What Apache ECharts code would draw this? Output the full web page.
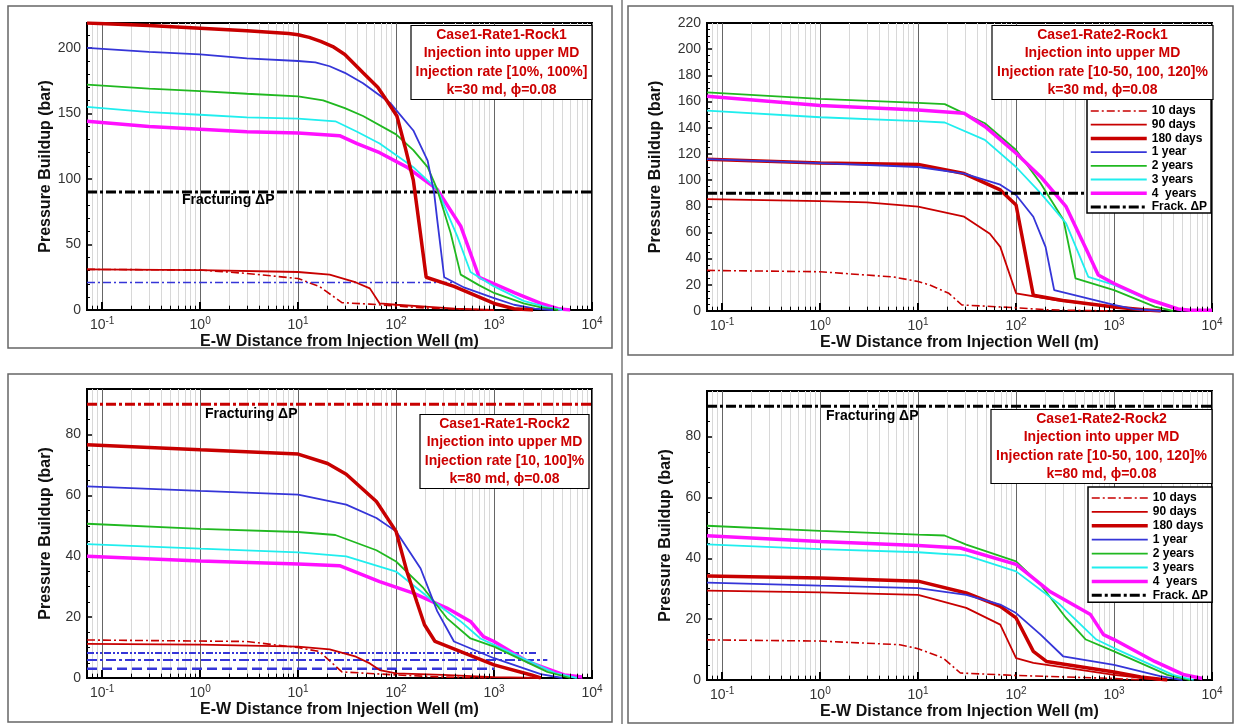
<!DOCTYPE html>
<html><head><meta charset="utf-8">
<script src="https://cdn.jsdelivr.net/npm/echarts@6/dist/echarts.min.js"></script>
<style>html,body{margin:0;padding:0;background:#fff}#c{width:1241px;height:724px}</style>
</head><body><div id="c"></div>
<script>
// ---------- tick labels / categories ----------
const xDecades = [-1, 0, 1, 2, 3, 4];
const legendNames = ['10 days', '90 days', '180 days', '1 year', '2 years', '3 years', '4  years', 'Frack. \u0394P'];
const titles = [
  'Case1-Rate1-Rock1\nInjection into upper MD\nInjection rate [10%, 100%]\nk=30 md, \u03d5=0.08',
  'Case1-Rate2-Rock1\nInjection into upper MD\nInjection rate [10-50, 100, 120]%\nk=30 md, \u03d5=0.08',
  'Case1-Rate1-Rock2\nInjection into upper MD\nInjection rate [10, 100]%\nk=80 md, \u03d5=0.08',
  'Case1-Rate2-Rock2\nInjection into upper MD\nInjection rate [10-50, 100, 120]%\nk=80 md, \u03d5=0.08'
];
const fracLevel = 90;

// ---------- Panel 1: Case1-Rate1-Rock1 ----------
const p1Thick = [[0.07,219],[0.3,217],[1,215],[3,213],[8,211],[10,210],[13,208],[17,205],[22.6,201],[30,195],[46,181],[65,170],[80,160],[102,148],[123,125],[150,99],[163,79],[203,25],[390,18],[1000,5],[1600,1],[2500,0]];
const p1Blue = [[0.07,200],[0.3,197],[1,195],[3,192],[10,190],[15,189],[21,186],[30,181],[46,173],[87,158],[150,137],[210,114],[245,89],[263,69],[310,25],[500,17],[1000,9],[1600,4],[2600,1],[4000,0]];
const p1Green = [[0.07,172],[0.3,169],[1,167],[3,165],[10,163],[18,160],[30,154],[46,148],[100,134],[150,122],[210,109],[263,92],[360,59],[457,27],[700,19],[1000,13],[2000,5],[3000,2],[4500,0]];
const p1Cyan = [[0.07,155],[0.3,151],[1,149],[3,147],[10,146],[24,144],[40,136],[68,127],[150,109],[263,92],[423,56],[575,29],[1000,18],[2000,7],[3500,2],[5000,0]];
const p1Mag = [[0.07,144],[0.3,140],[1,138],[3,136],[10,135],[26.5,133],[40,127],[68,120],[129,109],[263,92],[457,64],[705,25],[1630,13],[3000,5],[4500,1],[6000,0]];
const p1Thin = [[0.07,31],[1,30.5],[10,29],[21,27],[39,21],[54,16.5],[68,5],[100,4],[200,2.5],[400,1],[1000,0]];
const p1DashDot = [[0.07,31],[1,30.5],[2.9,28],[10,24],[16.5,18],[28,5.6],[54,4.5],[100,3],[200,1.5],[500,0.5],[1000,0]];
const p1BlueDD = [[0.07,21],[380,21]];
const p1Frac = [[0.07,fracLevel],[10000,fracLevel]];

// ---------- Panel 2: Case1-Rate2-Rock1 ----------
const p2D10 = [[0.07,31],[1,30],[5.6,26],[10,22.5],[13,20],[20.6,13.5],[28,4.6],[100,2.5],[200,1],[400,0.5],[1000,0]];
const p2D90 = [[0.07,85.5],[1,84],[3,83],[10,79.7],[29.5,72],[54,59],[69,49],[100,13.5],[253,8.4],[1000,3],[2000,1],[3000,0]];
const p2D180 = [[0.07,116],[1,113],[10,112],[29.5,105],[69,92.5],[100,81],[150,12],[300,8],[1000,3],[2000,1],[3000,0]];
const p2Y1 = [[0.07,116],[1,113],[10,110],[29.5,105],[69,96.5],[100,88.6],[150,72],[200,49],[245,16],[1000,4.6],[1600,1.5],[3000,0]];
const p2Y2 = [[0.07,167],[1,162],[10,159],[18.7,158],[48,143.4],[100,123],[178,97.6],[305,69.5],[404,25],[1000,16],[2600,3.3],[4000,0]];
const p2Y3 = [[0.07,153],[1,148],[10,145],[18.7,144],[48,130.7],[100,110],[178,90],[324,67],[546,26],[1000,20],[2000,10],[4000,3],[5000,0]];
const p2Y4 = [[0.07,164],[1,157],[10,153.6],[29.5,151],[48,141],[100,120.5],[178,102.6],[324,79.7],[525,46.6],[690,27.5],[1000,21],[2350,8.4],[4500,1.5],[6000,0.5],[10000,0.5]];
const p2Frac = [[0.07,fracLevel],[10000,fracLevel]];

// ---------- Panel 3: Case1-Rate1-Rock2 ----------
const p3Thick = [[0.07,76.7],[1,75],[10,73.6],[20,70.5],[31,67],[63,58],[100,48.2],[129,35],[163,25],[195,17.5],[250,12],[1000,4.3],[2400,1],[3000,0]];
const p3Blue = [[0.07,63],[1,61.5],[10,60.3],[31,57],[63,52.6],[100,48.2],[178,36],[263,22],[390,12],[1000,6.5],[3000,1.3],[5000,0]];
const p3Green = [[0.07,50.7],[1,49],[10,48],[24,47],[63,42],[100,38.3],[190,29.6],[330,19.7],[575,13],[1000,10.3],[3500,2],[6000,0]];
const p3Cyan = [[0.07,44],[1,42.5],[10,41.3],[31,40],[100,35],[245,25],[457,18.6],[725,13],[1000,10.9],[4200,1.6],[7000,0]];
const p3Mag = [[0.07,40],[1,38.5],[10,37.5],[26.5,36.9],[68,31.7],[150,27.9],[330,23],[575,18.6],[780,13.6],[1000,12],[2200,5.4],[5200,1],[8000,0.3]];
const p3Thin = [[0.07,11.2],[1,11],[10,10.3],[21,9.4],[39,7],[54,4.8],[68,2.6],[100,1.5],[300,1],[1000,0.3],[3000,0]];
const p3DashDot = [[0.07,12.5],[3,12],[10,10],[16.5,8.7],[28,2],[54,1.5],[100,1],[300,0.3],[1000,0]];
const p3BlueA = [[0.07,8.2],[2700,8.2]];
const p3BlueB = [[0.07,5.9],[3500,5.9]];
const p3BlueC = [[0.07,3.0],[1000,3.0]];
const p3Frac = [[0.07,fracLevel],[10000,fracLevel]];

// ---------- Panel 4: Case1-Rate2-Rock2 ----------
const p4D10 = [[0.07,13.2],[1,12.8],[6.5,11.6],[10,10.3],[18,7.2],[27,2.3],[100,1.5],[1000,0.5],[2000,0]];
const p4D90 = [[0.07,29.4],[1,28.8],[10,28],[31,23.7],[69,18.2],[100,7.2],[150,5.6],[1000,1.7],[3000,0]];
const p4D180 = [[0.07,34.2],[1,33.5],[10,32.5],[31,28.6],[69,24.2],[100,20.4],[150,9.4],[204,6.1],[1000,2.6],[1870,1],[3500,0]];
const p4Y1 = [[0.07,32],[1,31],[10,30.2],[31,28],[69,24.8],[100,22],[178,14.9],[302,7.8],[1000,5],[2950,1.3],[5000,0]];
const p4Y2 = [[0.07,50.7],[1,49],[10,47.8],[18.6,47.5],[31,44.5],[100,39],[178,31.3],[324,20.4],[515,13.3],[1000,9.4],[3500,1.7],[6000,0]];
const p4Y3 = [[0.07,44.6],[1,43],[10,42],[31,41],[100,35.7],[280,24.8],[660,13.3],[1000,10.5],[4000,1.7],[6500,0]];
const p4Y4 = [[0.07,47.4],[1,45.5],[10,44.2],[27,43.4],[100,38],[224,29],[575,21.5],[780,14.9],[1000,13.3],[2600,6.1],[5200,1.7],[8000,0.5]];
const p4Frac = [[0.07,fracLevel],[10000,fracLevel]];

// ---------- styling ----------
const FONT = 'Liberation Sans, Arial, sans-serif';
const RED = '#C80000', BLUE = '#3535D8', GREEN = '#20B820', CYAN = '#20EEEE', MAG = '#FF10FF', BLACK = '#000';
const DD = [8,3,2,3], FR = [10,3,3,3], DDD = [7,2,2,2,2,2], DASH = [10,5];

const grids = [
  {left: 87, top: 23, width: 505, height: 287},
  {left: 707, top: 23, width: 505, height: 288},
  {left: 87, top: 389, width: 505, height: 289},
  {left: 707, top: 391, width: 505, height: 289}
];
const yMax = [219, 220, 95, 95];
const yInt = [50, 20, 20, 20];
const yMinorSplit = [5, 4, 4, 4];
const yNameGap = [33, 43, 33, 33];

function supLabel(v) {
  const e = Math.log10(v), r = Math.round(e);
  if (Math.abs(e - r) > 1e-6 || xDecades.indexOf(r) < 0) return '';
  return '10{s|' + r + '}';
}

const xAxes = grids.map((g, i) => ({
  type: 'log', logBase: 10, gridIndex: i, min: 0.07, max: 10000,
  name: 'E-W Distance from Injection Well (m)', nameLocation: 'middle', nameGap: 22,
  nameTextStyle: {fontSize: 16, fontWeight: 'bold', color: '#111', fontFamily: FONT},
  axisLine: {show: true, onZero: false, lineStyle: {color: '#000', width: 2}},
  axisTick: {show: true, inside: true, length: 8, lineStyle: {color: '#000', width: 2}},
  axisLabel: {fontSize: 14, color: '#333', fontFamily: FONT, margin: 6, formatter: supLabel,
    rich: {s: {fontSize: 10, fontFamily: FONT, color: '#333', padding: [0, 0, 9, 0]}}},
  splitLine: {show: true, lineStyle: {color: '#666', width: 1}},
  minorTick: {show: false}
}));

const yAxes = grids.map((g, i) => ({
  type: 'value', gridIndex: i, min: 0, max: yMax[i], interval: yInt[i],
  name: 'Pressure Buildup (bar)', nameLocation: 'middle', nameGap: yNameGap[i],
  nameTextStyle: {fontSize: 16, fontWeight: 'bold', color: '#111', fontFamily: FONT},
  axisLine: {show: true, lineStyle: {color: '#000', width: 2}},
  axisTick: {show: true, inside: true, length: 6, lineStyle: {color: '#000', width: 1.5}},
  minorTick: {show: true, splitNumber: yMinorSplit[i], length: 3, lineStyle: {color: '#000', width: 1}},
  axisLabel: {fontSize: 14, color: '#333', fontFamily: FONT, margin: 6, showMaxLabel: i === 1},
  splitLine: {show: false}
}));

// minor grid positions (2..9 per decade)
const minorX = [];
for (let d = -2; d <= 3; d++) for (let k = 2; k <= 9; k++) {
  const x = +(k * Math.pow(10, d)).toPrecision(6);
  if (x > 0.07 && x < 10000) minorX.push(x);
}

function gridLines(i) {
  return {type: 'line', name: 'grid' + i, xAxisIndex: i, yAxisIndex: i, data: [], silent: true, z: 1,
    markLine: {silent: true, z: 1, symbol: ['none', 'none'], label: {show: false}, animation: false,
      lineStyle: {color: '#d8d8d8', width: 1, type: 'solid'},
      data: minorX.map(x => ({xAxis: x}))}};
}
function minorTicks(i) {
  const len = yMax[i] * 0.015;
  return {type: 'line', name: 'ticks' + i, xAxisIndex: i, yAxisIndex: i, data: [], silent: true, z: 3,
    markLine: {silent: true, z: 3, symbol: ['none', 'none'], label: {show: false}, animation: false,
      lineStyle: {color: '#000', width: 1, type: 'solid'},
      data: minorX.map(x => [{coord: [x, 0]}, {coord: [x, len]}])}};
}
function ln(i, name, data, color, width, dash, z) {
  return {type: 'line', name: name, xAxisIndex: i, yAxisIndex: i, data: data, showSymbol: false, symbol: 'none',
    smooth: false, z: z || 2, silent: true,
    lineStyle: {color: color, width: width, type: dash || 'solid', cap: 'butt'},
    itemStyle: {color: color}};
}

const series = [
  gridLines(0), gridLines(1), gridLines(2), gridLines(3),
  minorTicks(0), minorTicks(1), minorTicks(2), minorTicks(3),
  // panel 2 first so legend styles come from it
  ln(1, '10 days', p2D10, RED, 1.6, DD),
  ln(1, '90 days', p2D90, RED, 1.8),
  ln(1, '180 days', p2D180, RED, 3.5),
  ln(1, '1 year', p2Y1, BLUE, 1.8),
  ln(1, '2 years', p2Y2, GREEN, 1.8),
  ln(1, '3 years', p2Y3, CYAN, 1.8),
  ln(1, '4  years', p2Y4, MAG, 3.5),
  ln(1, 'Frack. \u0394P', p2Frac, BLACK, 3, FR),
  // panel 1
  ln(0, 'p1 frac', p1Frac, BLACK, 3, FR),
  ln(0, 'p1 10 days', p1DashDot, RED, 1.6, DD),
  ln(0, 'p1 blue dd', p1BlueDD, BLUE, 1.6, DD),
  ln(0, 'p1 90 days', p1Thin, RED, 1.8),
  ln(0, 'p1 4 years', p1Mag, MAG, 3.5),
  ln(0, 'p1 3 years', p1Cyan, CYAN, 1.8),
  ln(0, 'p1 2 years', p1Green, GREEN, 1.8),
  ln(0, 'p1 1 year', p1Blue, BLUE, 1.8),
  ln(0, 'p1 180 days', p1Thick, RED, 3.5),
  // panel 3
  ln(2, 'p3 frac', p3Frac, RED, 3, FR),
  ln(2, 'p3 blue A', p3BlueA, BLUE, 2, DDD),
  ln(2, 'p3 blue B', p3BlueB, BLUE, 2, FR),
  ln(2, 'p3 blue C', p3BlueC, BLUE, 2.5, DASH),
  ln(2, 'p3 10 days', p3DashDot, RED, 1.6, DD),
  ln(2, 'p3 90 days', p3Thin, RED, 1.8),
  ln(2, 'p3 4 years', p3Mag, MAG, 3.5),
  ln(2, 'p3 3 years', p3Cyan, CYAN, 1.8),
  ln(2, 'p3 2 years', p3Green, GREEN, 1.8),
  ln(2, 'p3 1 year', p3Blue, BLUE, 1.8),
  ln(2, 'p3 180 days', p3Thick, RED, 3.5),
  // panel 4
  ln(3, 'p4 frac', p4Frac, BLACK, 3, FR),
  ln(3, 'p4 10 days', p4D10, RED, 1.6, DD),
  ln(3, 'p4 90 days', p4D90, RED, 1.8),
  ln(3, 'p4 180 days', p4D180, RED, 3.5),
  ln(3, 'p4 1 year', p4Y1, BLUE, 1.8),
  ln(3, 'p4 2 years', p4Y2, GREEN, 1.8),
  ln(3, 'p4 3 years', p4Y3, CYAN, 1.8),
  ln(3, 'p4 4 years', p4Y4, MAG, 3.5)
];

// title boxes: horizontal centre, top
const titleBoxes = [[496.5, 25], [1097.5, 25], [499.5, 414], [1096.5, 409]];
const titleOpts = titles.map((t, i) => ({
  text: t, left: titleBoxes[i][0], top: titleBoxes[i][1], textAlign: 'center',
  padding: [1, 5, 1, 5], borderColor: '#000', borderWidth: 1.2, backgroundColor: '#fff', z: 8,
  textStyle: {fontSize: 14, fontWeight: 'bold', color: '#CC0000', fontFamily: FONT, lineHeight: 18.3}
}));

const legendBase = {orient: 'vertical', data: legendNames, itemWidth: 56, itemHeight: 13,
  borderColor: '#000', borderWidth: 1.5, backgroundColor: '#fff', selectedMode: false, z: 8,
  itemStyle: {opacity: 0, borderWidth: 0},
  lineStyle: {width: 'inherit', type: 'inherit', color: 'inherit'},
  textStyle: {fontSize: 12, fontWeight: 'bold', color: '#000', fontFamily: FONT}};
const legends = [
  Object.assign({}, legendBase, {left: 1087, top: 98, itemGap: 1.7, padding: [7, 4, 0, 2]}),
  Object.assign({}, legendBase, {left: 1088, top: 487, itemGap: 1.9, padding: [5, 4, 1, 2]})
];

function fracText(x, y) {
  return {type: 'text', left: x, top: y, z: 10,
    style: {text: 'Fracturing \u0394P', font: 'bold 14px ' + FONT, fill: '#000'}};
}
function frame(x, y, w, h) {
  return {type: 'rect', shape: {x: x, y: y, width: w, height: h}, z: 0,
    style: {fill: 'none', stroke: '#666', lineWidth: 1.5}};
}

const chart = echarts.init(document.getElementById('c'), null, {renderer: 'canvas'});
chart.setOption({
  animation: false,
  backgroundColor: '#fff',
  title: titleOpts,
  legend: legends,
  grid: grids.map(g => Object.assign({show: true, borderColor: '#000', borderWidth: 2, backgroundColor: 'transparent'}, g)),
  xAxis: xAxes,
  yAxis: yAxes,
  series: series,
  graphic: [
    frame(8, 6, 604, 342), frame(628, 6, 605, 349), frame(8, 374, 604, 348), frame(628, 374, 605, 349),
    {type: 'line', shape: {x1: 622, y1: 0, x2: 622, y2: 724}, style: {stroke: '#555', lineWidth: 1.2}},
    fracText(182, 193), fracText(205, 407), fracText(826, 409)
  ]
});
</script></body></html>
